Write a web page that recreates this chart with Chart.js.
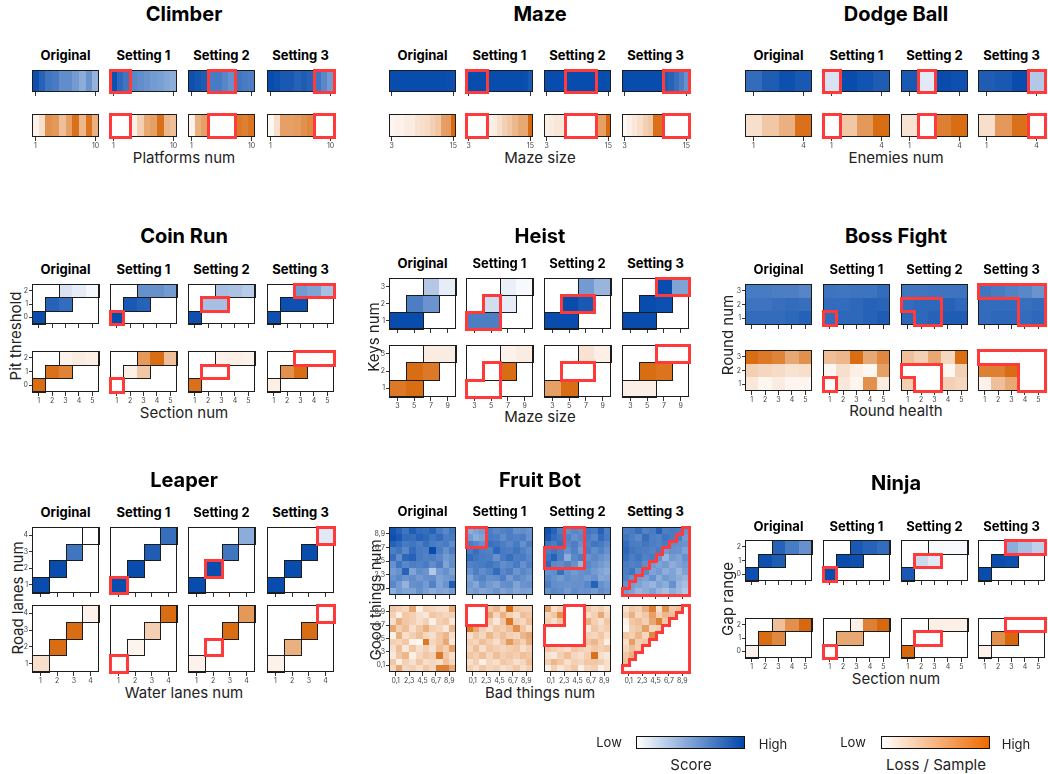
<!DOCTYPE html>
<html>
<head>
<meta charset="utf-8">
<script src="https://cdn.jsdelivr.net/npm/chart.js@4.4.1/dist/chart.umd.min.js"></script>
<style>
html, body { margin: 0; padding: 0; background: #fff; }
#page { position: relative; width: 1048px; height: 774px; overflow: hidden; font-family: Inter, "Noto Sans", sans-serif; color: #111; }
.t { position: absolute; white-space: nowrap; transform: translate(-50%, -50%); line-height: 1; }
.title { font-weight: 700; font-size: 20px; color: #000; }
.sub { font-weight: 700; font-size: 13px; color: #000; }
.axis { font-size: 15px; color: #222; }
.leg { font-size: 13px; color: #222; }
.rot { transform: translate(-50%, -50%) rotate(-90deg); }
.host { position: absolute; }
.host canvas { display: block; }
.bar { position: absolute; border: 1.5px solid #111; box-sizing: border-box; }
</style>
</head>
<body>
<div id="page"></div>
<script>
const N = null;

// ---------- Climber ----------
const climberX = [1, 2, 3, 4, 5, 6, 7, 8, 9, 10];
const climberTicks = [1, 10];
const climberScore = [
  [0.95, 0.85, 0.75, 0.72, 0.62, 0.62, 0.55, 0.45, 0.58, 0.42],
  [0.95, 0.82, 0.75, 0.65, 0.62, 0.58, 0.55, 0.52, 0.48, 0.45],
  [0.95, 0.92, 0.88, 0.72, 0.72, 0.66, 0.60, 0.75, 0.72, 0.70],
  [0.97, 0.95, 0.90, 0.90, 0.85, 0.88, 0.85, 0.75, 0.65, 0.55]
];
const climberLoss = [
  [0.08, 0.20, 0.70, 0.65, 0.40, 0.60, 0.90, 0.45, 0.88, 0.50],
  [N, N, N, 0.10, 0.30, 0.55, 0.60, 0.90, 0.45, 0.40],
  [0.08, 0.50, 0.60, N, N, N, N, 0.85, 0.80, 0.88],
  [0.05, 0.20, 0.60, 0.60, 0.62, 0.70, 0.75, N, N, N]
];

// ---------- Maze ----------
const mazeX = [3, 4, 5, 6, 7, 8, 9, 10, 11, 12, 13, 14, 15];
const mazeTicks = [3, 15];
const mazeScore = [
  [0.97, 0.97, 0.97, 0.97, 0.97, 0.97, 0.97, 0.97, 0.97, 0.97, 0.97, 0.96, 0.95],
  [0.97, 0.97, 0.97, 0.97, 0.97, 0.97, 0.97, 0.97, 0.97, 0.97, 0.97, 0.96, 0.90],
  [0.97, 0.97, 0.97, 0.97, 0.97, 0.97, 0.97, 0.97, 0.97, 0.97, 0.97, 0.97, 0.96],
  [0.97, 0.97, 0.97, 0.97, 0.97, 0.97, 0.97, 0.97, 0.88, 0.85, 0.78, 0.70, 0.60]
];
const mazeLoss = [
  [0.06, 0.08, 0.08, 0.12, 0.12, 0.18, 0.20, 0.22, 0.30, 0.35, 0.60, 0.62, 0.95],
  [N, N, N, N, 0.08, 0.12, 0.20, 0.30, 0.35, 0.45, 0.55, 0.55, 0.95],
  [0.10, 0.12, 0.15, 0.15, N, N, N, N, N, N, 0.60, 0.60, 0.95],
  [0.05, 0.10, 0.15, 0.20, 0.30, 0.35, 0.90, 0.90, N, N, N, N, N]
];

// ---------- Dodge Ball ----------
const dodgeX = [1, 2, 3, 4];
const dodgeTicks = [1, 4];
const dodgeScore = [
  [0.80, 0.88, 0.95, 0.90],
  [0.15, 0.97, 0.93, 0.88],
  [0.90, 0.12, 0.97, 0.95],
  [0.88, 0.90, 0.97, 0.30]
];
const dodgeLoss = [
  [0.20, 0.35, 0.50, 0.90],
  [N, 0.35, 0.65, 0.92],
  [0.18, N, 0.80, 0.92],
  [0.20, 0.65, 0.90, N]
];

// ---------- Coin Run ----------
const coinRunX = [1, 2, 3, 4, 5];
const coinRunY = [0, 1, 2];
const coinRunCells = [[1, 0], [2, 1], [3, 1], [3, 2], [4, 2], [5, 2]];
const coinRunScore = [
  [0.97, 0.85, 0.80, 0.15, 0.10, 0.04],
  [0.97, 0.90, 0.85, 0.60, 0.60, 0.55],
  [0.95, 0.35, 0.35, 0.35, 0.33, 0.28],
  [0.95, 0.95, 0.95, 0.55, 0.50, 0.35]
];
const coinRunLoss = [
  [0.92, 0.90, 0.78, 0.08, 0.12, 0.10],
  [N, 0.10, 0.35, 0.65, 0.92, 0.40],
  [0.90, N, N, 0.08, 0.10, 0.08],
  [0.10, 0.70, 0.92, N, N, N]
];

// ---------- Heist ----------
const heistX = [3, 5, 7, 9];
const heistY = [1, 2, 3];
const heistCells = [[3, 1], [5, 1], [5, 2], [7, 2], [7, 3], [9, 3]];
const heistScore = [
  [0.97, 0.97, 0.70, 0.58, 0.30, 0.10],
  [0.70, 0.70, 0.18, 0.10, 0.08, 0.03],
  [0.97, 0.97, 0.97, 0.90, 0.55, 0.40],
  [0.97, 0.97, 0.97, 0.95, 0.97, 0.50]
];
const heistLoss = [
  [0.85, 0.92, 0.92, 0.85, 0.12, 0.12],
  [N, N, N, 0.92, 0.08, 0.12],
  [0.60, 0.92, N, N, 0.18, 0.10],
  [0.10, 0.10, 0.92, 0.88, N, N]
];

// ---------- Boss Fight (rows: round num 3, 2, 1) ----------
const bossX = [1, 2, 3, 4, 5];
const bossY = [1, 2, 3];
const bossScore = [
  [[0.72, 0.72, 0.70, 0.70, 0.66], [0.76, 0.76, 0.78, 0.80, 0.78], [0.80, 0.80, 0.80, 0.82, 0.86]],
  [[0.76, 0.75, 0.76, 0.76, 0.80], [0.80, 0.80, 0.82, 0.85, 0.84], [0.80, 0.82, 0.82, 0.85, 0.88]],
  [[0.75, 0.75, 0.76, 0.76, 0.76], [0.80, 0.82, 0.82, 0.85, 0.82], [0.82, 0.82, 0.85, 0.88, 0.88]],
  [[0.75, 0.72, 0.68, 0.65, 0.58], [0.80, 0.80, 0.80, 0.78, 0.80], [0.80, 0.82, 0.82, 0.80, 0.82]]
];
const bossLoss = [
  [[0.92, 0.85, 0.78, 0.55, 0.70], [0.30, 0.25, 0.22, 0.18, 0.20], [0.15, 0.05, 0.12, 0.06, 0.06]],
  [[0.40, 0.45, 0.92, 0.55, 0.75], [0.05, 0.20, 0.10, 0.05, 0.60], [N, 0.15, 0.06, 0.70, 0.12]],
  [[0.40, 0.30, 0.55, 0.25, 0.92], [N, N, N, 0.05, 0.30], [0.30, N, N, 0.30, 0.25]],
  [[N, N, N, N, N], [0.80, 0.80, 0.92, N, N], [0.08, 0.40, 0.55, N, N]]
];

// ---------- Leaper ----------
const leaperX = [1, 2, 3, 4];
const leaperY = [1, 2, 3, 4];
const leaperCells = [[1, 1], [2, 2], [3, 3], [4, 4]];
const leaperScore = [
  [0.97, 0.97, 0.75, 0.00],
  [0.97, 0.97, 0.88, 0.78],
  [0.97, 0.97, 0.75, 0.45],
  [0.97, 0.97, 0.97, 0.12]
];
const leaperLoss = [
  [0.20, 0.92, 0.92, 0.08],
  [N, 0.07, 0.30, 0.92],
  [0.08, N, 0.92, 0.65],
  [0.08, 0.50, 0.92, N]
];

// ---------- Fruit Bot (rows: good things 9 down to 0, columns: bad things 0..9) ----------
const fruitBins = [0, 1, 2, 3, 4, 5, 6, 7, 8, 9];
const fruitTickLabels = ['0,1', '2,3', '4,5', '6,7', '8,9'];
const fruitScore = [
  [
    [0.92, 0.85, 0.75, 0.88, 0.80, 0.78, 0.85, 0.72, 0.65, 0.75],
    [0.95, 0.90, 0.80, 0.78, 0.85, 0.82, 0.75, 0.80, 0.70, 0.72],
    [0.85, 0.80, 0.72, 0.75, 0.70, 0.78, 0.72, 0.68, 0.72, 0.62],
    [0.70, 0.75, 0.65, 0.80, 0.72, 0.70, 0.97, 0.70, 0.60, 0.70],
    [0.78, 0.62, 0.82, 0.85, 0.72, 0.68, 0.70, 0.65, 0.55, 0.60],
    [0.60, 0.75, 0.65, 0.70, 0.68, 0.72, 0.62, 0.70, 0.50, 0.62],
    [0.55, 0.60, 0.85, 0.50, 0.62, 0.58, 0.30, 0.55, 0.60, 0.50],
    [0.60, 0.65, 0.58, 0.62, 0.55, 0.60, 0.62, 0.50, 0.55, 0.58],
    [0.65, 0.55, 0.42, 0.60, 0.62, 0.55, 0.68, 0.50, 0.58, 0.88],
    [0.45, 0.55, 0.50, 0.50, 0.60, 0.52, 0.45, 0.50, 0.48, 0.55]
  ],
  [
    [0.45, 0.50, 0.55, 0.70, 0.65, 0.68, 0.70, 0.60, 0.62, 0.58],
    [0.55, 0.45, 0.50, 0.72, 0.70, 0.62, 0.70, 0.68, 0.70, 0.60],
    [0.70, 0.65, 0.60, 0.78, 0.75, 0.70, 0.65, 0.72, 0.60, 0.70],
    [0.72, 0.78, 0.70, 0.68, 0.82, 0.72, 0.70, 0.75, 0.68, 0.62],
    [0.80, 0.75, 0.72, 0.70, 0.60, 0.72, 0.78, 0.70, 0.72, 0.65],
    [0.68, 0.70, 0.72, 0.75, 0.70, 0.62, 0.65, 0.72, 0.60, 0.68],
    [0.60, 0.70, 0.62, 0.68, 0.80, 0.65, 0.70, 0.58, 0.65, 0.60],
    [0.50, 0.62, 0.68, 0.60, 0.62, 0.70, 0.55, 0.65, 0.60, 0.55],
    [0.55, 0.48, 0.62, 0.55, 0.50, 0.60, 0.62, 0.50, 0.58, 0.60],
    [0.50, 0.55, 0.48, 0.52, 0.58, 0.50, 0.55, 0.48, 0.52, 0.50]
  ],
  [
    [0.95, 0.85, 0.70, 0.60, 0.65, 0.62, 0.75, 0.72, 0.85, 0.70],
    [0.90, 0.80, 0.75, 0.68, 0.60, 0.65, 0.72, 0.65, 0.80, 0.72],
    [0.75, 0.70, 0.78, 0.65, 0.70, 0.60, 0.68, 0.75, 0.72, 0.65],
    [0.70, 0.75, 0.70, 0.60, 0.68, 0.55, 0.70, 0.62, 0.68, 0.60],
    [0.75, 0.85, 0.70, 0.45, 0.65, 0.70, 0.60, 0.65, 0.60, 0.55],
    [0.82, 0.65, 0.62, 0.68, 0.60, 0.40, 0.65, 0.60, 0.55, 0.50],
    [0.60, 0.62, 0.78, 0.60, 0.55, 0.60, 0.62, 0.55, 0.50, 0.45],
    [0.65, 0.60, 0.55, 0.62, 0.58, 0.60, 0.55, 0.60, 0.48, 0.50],
    [0.70, 0.62, 0.60, 0.58, 0.60, 0.60, 0.65, 0.85, 0.60, 0.55],
    [0.60, 0.65, 0.62, 0.55, 0.62, 0.58, 0.60, 0.55, 0.62, 0.58]
  ],
  [
    [0.70, 0.72, 0.78, 0.68, 0.72, 0.85, 0.70, 0.72, 0.70, 0.60],
    [0.75, 0.70, 0.65, 0.78, 0.70, 0.68, 0.75, 0.72, 0.70, 0.55],
    [0.80, 0.72, 0.70, 0.75, 0.70, 0.68, 0.72, 0.62, 0.60, 0.58],
    [0.82, 0.75, 0.72, 0.70, 0.68, 0.72, 0.55, 0.60, 0.58, 0.50],
    [0.78, 0.70, 0.75, 0.68, 0.72, 0.60, 0.40, 0.55, 0.50, 0.60],
    [0.72, 0.68, 0.70, 0.62, 0.55, 0.50, 0.55, 0.45, 0.50, 0.55],
    [0.70, 0.75, 0.60, 0.65, 0.50, 0.55, 0.45, 0.50, 0.40, 0.50],
    [0.68, 0.60, 0.55, 0.50, 0.60, 0.45, 0.55, 0.50, 0.45, 0.40],
    [0.60, 0.55, 0.50, 0.45, 0.40, 0.50, 0.45, 0.60, 0.40, 0.35],
    [0.55, 0.50, 0.40, 0.45, 0.50, 0.40, 0.35, 0.45, 0.38, 0.30]
  ]
];
const fruitLoss = [
  [
    [0.35, 0.30, 0.25, 0.55, 0.10, 0.30, 0.25, 0.20, 0.20, 0.55],
    [0.30, 0.10, 0.35, 0.30, 0.20, 0.15, 0.35, 0.30, 0.25, 0.30],
    [0.20, 0.50, 0.35, 0.30, 0.20, 0.30, 0.10, 0.30, 0.35, 0.15],
    [0.55, 0.30, 0.40, 0.20, 0.35, 0.50, 0.30, 0.25, 0.15, 0.45],
    [0.10, 0.50, 0.20, 0.30, 0.40, 0.25, 0.20, 0.35, 0.45, 0.20],
    [0.30, 0.25, 0.35, 0.08, 0.05, 0.85, 0.25, 0.35, 0.55, 0.15],
    [0.20, 0.40, 0.15, 0.35, 0.20, 0.30, 0.20, 0.40, 0.30, 0.60],
    [0.15, 0.35, 0.45, 0.10, 0.25, 0.35, 0.30, 0.85, 0.35, 0.20],
    [0.35, 0.10, 0.30, 0.20, 0.35, 0.20, 0.25, 0.20, 0.40, 0.25],
    [0.25, 0.55, 0.25, 0.30, 0.20, 0.35, 0.25, 0.80, 0.80, 0.55]
  ],
  [
    [N, N, N, 0.35, 0.45, 0.25, 0.92, 0.35, 0.30, 0.30],
    [N, N, N, 0.55, 0.25, 0.50, 0.30, 0.20, 0.40, 0.35],
    [N, N, N, 0.30, 0.15, 0.35, 0.85, 0.30, 0.25, 0.40],
    [0.85, 0.55, 0.30, 0.20, 0.35, 0.30, 0.40, 0.70, 0.35, 0.20],
    [0.20, 0.35, 0.25, 0.45, 0.30, 0.40, 0.30, 0.25, 0.45, 0.55],
    [0.30, 0.25, 0.40, 0.30, 0.20, 0.35, 0.65, 0.40, 0.30, 0.50],
    [0.25, 0.40, 0.20, 0.35, 0.30, 0.25, 0.30, 0.35, 0.20, 0.30],
    [0.35, 0.30, 0.40, 0.25, 0.40, 0.30, 0.35, 0.30, 0.40, 0.35],
    [0.20, 0.30, 0.10, 0.25, 0.20, 0.35, 0.30, 0.20, 0.25, 0.40],
    [0.30, 0.20, 0.35, 0.25, 0.30, 0.20, 0.25, 0.35, 0.20, 0.30]
  ],
  [
    [0.60, 0.20, 0.30, N, N, N, 0.35, 0.25, 0.30, 0.20],
    [0.25, 0.35, 0.70, N, N, N, 0.20, 0.30, 0.55, 0.25],
    [0.30, 0.20, 0.35, N, N, N, 0.50, 0.30, 0.20, 0.35],
    [N, N, N, N, N, N, 0.15, 0.35, 0.25, 0.30],
    [N, N, N, N, N, N, 0.30, 0.25, 0.35, 0.20],
    [N, N, N, N, N, N, 0.35, 0.45, 0.30, 0.10],
    [0.35, 0.30, 0.25, 0.20, 0.35, 0.30, 0.25, 0.35, 0.30, 0.35],
    [0.20, 0.15, 0.30, 0.40, 0.25, 0.20, 0.30, 0.90, 0.20, 0.15],
    [0.30, 0.45, 0.35, 0.20, 0.30, 0.25, 0.35, 0.35, 0.30, 0.20],
    [0.10, 0.30, 0.15, 0.25, 0.35, 0.10, 0.25, 0.30, 0.10, 0.20]
  ],
  [
    [0.20, 0.35, 0.30, 0.50, 0.80, 0.20, 0.70, 0.35, 0.40, N],
    [0.30, 0.50, 0.25, 0.35, 0.60, 0.30, 0.45, 0.40, N, N],
    [0.10, 0.35, 0.40, 0.30, 0.55, 0.80, 0.35, N, N, N],
    [0.05, 0.30, 0.35, 0.60, 0.25, 0.30, N, N, N, N],
    [0.35, 0.30, 0.45, 0.25, 0.75, N, N, N, N, N],
    [0.20, 0.60, 0.30, 0.35, N, N, N, N, N, N],
    [0.25, 0.40, 0.30, N, N, N, N, N, N, N],
    [0.35, 0.50, N, N, N, N, N, N, N, N],
    [0.40, N, N, N, N, N, N, N, N, N],
    [N, N, N, N, N, N, N, N, N, N]
  ]
];

// ---------- Ninja ----------
const ninjaX = [1, 2, 3, 4, 5];
const ninjaY = [0, 1, 2];
const ninjaCells = [[1, 0], [2, 1], [3, 1], [3, 2], [4, 2], [5, 2]];
const ninjaScore = [
  [0.95, 0.95, 0.88, 0.85, 0.72, 0.60],
  [0.97, 0.97, 0.95, 0.90, 0.85, 0.80],
  [0.90, 0.20, 0.12, 0.03, 0.03, 0.03],
  [0.97, 0.97, 0.95, 0.45, 0.35, 0.25]
];
const ninjaLoss = [
  [0.08, 0.92, 0.75, 0.40, 0.70, 0.95],
  [N, 0.55, 0.55, 0.10, 0.80, 0.95],
  [0.95, N, N, 0.10, 0.10, 0.10],
  [0.08, 0.70, 0.95, N, N, N]
];

const settingNames = ['Original', 'Setting 1', 'Setting 2', 'Setting 3'];

// ---------- drawing ----------
Chart.defaults.font.family = 'Inter, "Noto Sans", sans-serif';

const BLUE = [0, 71, 171];
const ORANGE = [214, 96, 0];
function shade(rgb, t) {
  t = Math.max(0, Math.min(1, t));
  const c = rgb.map(k => Math.round(255 + (k - 255) * t));
  return 'rgb(' + c[0] + ',' + c[1] + ',' + c[2] + ')';
}

const page = document.getElementById('page');
function text(str, x, y, cls) {
  const d = document.createElement('div');
  d.className = 't ' + cls;
  d.textContent = str;
  d.style.left = x + 'px';
  d.style.top = y + 'px';
  page.appendChild(d);
}

const COLS = { left: [32, 110, 188, 267], mid: [389, 466, 544, 622], right: [745, 823, 901, 978] };
const COL_CENTER = { left: 184, mid: 540, right: 896 };
const PLOT_W = 67;

function stripPos(xs) { return xs.map((v, i) => ({ x: i, y: 0 })); }
function cellPos(xs, ys, cells) { return cells.map(([a, b]) => ({ x: xs.indexOf(a), y: ys.indexOf(b) })); }
function gridPos(nx, ny) {
  const out = [];
  for (let r = 0; r < ny; r++) for (let c = 0; c < nx; c++) out.push({ x: c, y: ny - 1 - r });
  return out;
}
const valTicks = (xs, shown) => shown.map(v => ({ pos: xs.indexOf(v), label: String(v) }));
const pairTicks = labels => labels.map((l, i) => ({ pos: 2 * i + 0.5, label: l }));

const panels = [
  { title: 'Climber', col: 'left', titleY: 14, subY: 55, rows: [[70, 22], [114, 23]], xTitle: 'Platforms num', xTitleY: 157,
    nx: climberX.length, ny: 1, pos: stripPos(climberX), grid: false, outline: false,
    xTicks: valTicks(climberX, climberTicks), yTicks: null, score: climberScore, loss: climberLoss },
  { title: 'Maze', col: 'mid', titleY: 14, subY: 55, rows: [[70, 22], [114, 23]], xTitle: 'Maze size', xTitleY: 157,
    nx: mazeX.length, ny: 1, pos: stripPos(mazeX), grid: false, outline: false,
    xTicks: valTicks(mazeX, mazeTicks), yTicks: null, score: mazeScore, loss: mazeLoss },
  { title: 'Dodge Ball', col: 'right', titleY: 14, subY: 55, rows: [[70, 22], [114, 23]], xTitle: 'Enemies num', xTitleY: 157,
    nx: dodgeX.length, ny: 1, pos: stripPos(dodgeX), grid: false, outline: false,
    xTicks: valTicks(dodgeX, dodgeTicks), yTicks: null, score: dodgeScore, loss: dodgeLoss },
  { title: 'Coin Run', col: 'left', titleY: 236, subY: 269, rows: [[284, 40], [351, 41]], xTitle: 'Section num', xTitleY: 412,
    yTitle: 'Pit threshold', yTitleX: 15, yTitleY: 336,
    nx: coinRunX.length, ny: coinRunY.length, pos: cellPos(coinRunX, coinRunY, coinRunCells), grid: false, outline: true,
    xTicks: valTicks(coinRunX, coinRunX), yTicks: valTicks(coinRunY, coinRunY), score: coinRunScore, loss: coinRunLoss },
  { title: 'Heist', col: 'mid', titleY: 236, subY: 263, rows: [[278, 51], [345, 52]], xTitle: 'Maze size', xTitleY: 416,
    yTitle: 'Keys num', yTitleX: 373, yTitleY: 337,
    nx: heistX.length, ny: heistY.length, pos: cellPos(heistX, heistY, heistCells), grid: false, outline: true,
    xTicks: valTicks(heistX, heistX), yTicks: valTicks(heistY, heistY), score: heistScore, loss: heistLoss },
  { title: 'Boss Fight', col: 'right', titleY: 236, subY: 269, rows: [[284, 41], [350, 41]], xTitle: 'Round health', xTitleY: 410,
    yTitle: 'Round num', yTitleX: 727, yTitleY: 335,
    nx: bossX.length, ny: bossY.length, pos: gridPos(bossX.length, bossY.length), grid: true, outline: false,
    xTicks: valTicks(bossX, bossX), yTicks: valTicks(bossY, bossY), score: bossScore, loss: bossLoss },
  { title: 'Leaper', col: 'left', titleY: 480, subY: 512, rows: [[527, 66], [605, 67]], xTitle: 'Water lanes num', xTitleY: 692,
    yTitle: 'Road lanes num', yTitleX: 17, yTitleY: 598,
    nx: leaperX.length, ny: leaperY.length, pos: cellPos(leaperX, leaperY, leaperCells), grid: false, outline: true,
    xTicks: valTicks(leaperX, leaperX), yTicks: valTicks(leaperY, leaperY), score: leaperScore, loss: leaperLoss },
  { title: 'Fruit Bot', col: 'mid', titleY: 480, subY: 511, rows: [[527, 68], [605, 67]], xTitle: 'Bad things num', xTitleY: 692,
    yTitle: 'Good things num', yTitleX: 375, yTitleY: 600,
    nx: fruitBins.length, ny: fruitBins.length, pos: gridPos(fruitBins.length, fruitBins.length), grid: true, outline: false,
    xTicks: pairTicks(fruitTickLabels), yTicks: pairTicks(fruitTickLabels), score: fruitScore, loss: fruitLoss },
  { title: 'Ninja', col: 'right', titleY: 483, subY: 526, rows: [[540, 41], [618, 40]], xTitle: 'Section num', xTitleY: 678,
    yTitle: 'Gap range', yTitleX: 727, yTitleY: 599,
    nx: ninjaX.length, ny: ninjaY.length, pos: cellPos(ninjaX, ninjaY, ninjaCells), grid: false, outline: true,
    xTicks: valTicks(ninjaX, ninjaX), yTicks: valTicks(ninjaY, ninjaY), score: ninjaScore, loss: ninjaLoss }
];

function drawHeat(chart, rgb, outline) {
  const { ctx, chartArea: a } = chart;
  const sx = chart.scales.x, sy = chart.scales.y;
  const X = v => sx.getPixelForValue(v), Y = v => sy.getPixelForValue(v);
  const cells = chart.data.datasets[0].data;
  const key = (i, j) => i + ':' + j;
  const byKey = new Map(cells.map(c => [key(c.x, c.y), c]));
  ctx.save();
  for (const c of cells) {
    if (c.v === null || c.v === undefined) continue;
    const l = Math.round(X(c.x - 0.5)), r = Math.round(X(c.x + 0.5));
    const t = Math.round(Y(c.y + 0.5)), b = Math.round(Y(c.y - 0.5));
    ctx.fillStyle = shade(rgb, c.v);
    ctx.fillRect(l, t, r - l, b - t);
  }
  const dirs = [[1, 0], [-1, 0], [0, 1], [0, -1]];
  const edge = (c, dx, dy) => {
    if (dx) { const xv = c.x + dx * 0.5; return [xv, c.y - 0.5, xv, c.y + 0.5]; }
    const yv = c.y + dy * 0.5; return [c.x - 0.5, yv, c.x + 0.5, yv];
  };
  const stroke = (segs, color, w) => {
    ctx.strokeStyle = color; ctx.lineWidth = w; ctx.lineCap = 'square';
    const off = w % 2 ? 0.5 : 0;
    ctx.beginPath();
    for (const [x0, y0, x1, y1] of segs) {
      ctx.moveTo(Math.round(X(x0)) + off, Math.round(Y(y0)) + off);
      ctx.lineTo(Math.round(X(x1)) + off, Math.round(Y(y1)) + off);
    }
    ctx.stroke();
  };
  if (outline) {
    const segs = [];
    for (const c of cells) for (const [dx, dy] of dirs) {
      const n = byKey.get(key(c.x + dx, c.y + dy));
      if (!n || n.y !== c.y) segs.push(edge(c, dx, dy));
    }
    stroke(segs, '#1c1c1c', 1);
  }
  ctx.lineWidth = 1; ctx.strokeStyle = '#1c1c1c';
  const L = Math.round(a.left), T = Math.round(a.top), R = Math.round(a.right), B = Math.round(a.bottom);
  ctx.strokeRect(L + 0.5, T + 0.5, R - L - 1, B - T - 1);
  const held = cells.filter(c => c.held);
  const heldKeys = new Set(held.map(c => key(c.x, c.y)));
  const redSegs = [];
  for (const c of held) for (const [dx, dy] of dirs) {
    if (!heldKeys.has(key(c.x + dx, c.y + dy))) redSegs.push(edge(c, dx, dy));
  }
  if (redSegs.length) stroke(redSegs, '#ff3a3a', 3);
  ctx.restore();
}

function axisOptions(ticksList, size, showLabels, showTicks, isX, span) {
  const labelFor = v => {
    const t = ticksList.find(k => Math.abs(k.pos - v) < 1e-6);
    return t ? t.label : '';
  };
  return {
    type: 'linear',
    display: true,
    min: -0.5,
    max: span - 0.5,
    reverse: false,
    afterBuildTicks: s => { s.ticks = showTicks ? ticksList.map(k => ({ value: k.pos })) : []; },
    afterFit: s => { if (isX) s.height = size; else s.width = size; },
    ticks: { display: showLabels, autoSkip: false, maxRotation: 0, minRotation: 0, padding: 1,
      font: { size: 7 }, color: '#444', callback: v => labelFor(v) },
    grid: { display: showTicks, drawOnChartArea: false, drawTicks: true, tickLength: isX ? 4 : 3, color: '#333', lineWidth: 1 },
    border: { display: false }
  };
}

function makeHeat(p, s, r) {
  const [plotY, plotH] = p.rows[r];
  const plotX = COLS[p.col][s];
  const flat = m => p.grid ? m.flat() : m;
  const vals = flat(r === 0 ? p.score[s] : p.loss[s]);
  const lossVals = flat(p.loss[s]);
  const data = p.pos.map((q, i) => ({ x: q.x, y: q.y, v: vals[i], held: lossVals[i] === null }));
  const showY = !!p.yTicks && s === 0;
  const showXLabels = r === 1;
  const rgb = r === 0 ? BLUE : ORANGE;
  const LEFT = 18, TOP = 8, RIGHT = 8, BOTTOM = 14;

  const host = document.createElement('div');
  host.className = 'host';
  page.appendChild(host);

  let W = PLOT_W + LEFT + RIGHT, H = plotH + TOP + BOTTOM;
  let chart = null;
  for (let pass = 0; pass < 3; pass++) {
    if (chart) chart.destroy();
    host.innerHTML = '';
    const cv = document.createElement('canvas');
    cv.width = W; cv.height = H;
    cv.style.width = W + 'px'; cv.style.height = H + 'px';
    host.appendChild(cv);
    chart = new Chart(cv, {
      type: 'scatter',
      data: { datasets: [{ data: data, pointRadius: 0, pointHoverRadius: 0 }] },
      options: {
        responsive: false,
        maintainAspectRatio: false,
        animation: false,
        events: [],
        devicePixelRatio: 1,
        layout: { padding: { left: showY ? 0 : LEFT, top: TOP, right: RIGHT, bottom: 0 } },
        plugins: { legend: { display: false }, tooltip: { enabled: false } },
        scales: {
          x: axisOptions(p.xTicks, BOTTOM, showXLabels, true, true, p.nx),
          y: Object.assign(axisOptions(p.yTicks || [], LEFT, showY, showY, false, p.ny), { display: showY })
        }
      },
      plugins: [{ id: 'heatCells', afterDatasetsDraw: c => drawHeat(c, rgb, p.outline) }]
    });
    const a = chart.chartArea;
    const dw = PLOT_W - (a.right - a.left), dh = plotH - (a.bottom - a.top);
    if (Math.abs(dw) < 0.5 && Math.abs(dh) < 0.5) break;
    W = Math.round(W + dw); H = Math.round(H + dh);
  }
  host.style.left = (plotX - chart.chartArea.left) + 'px';
  host.style.top = (plotY - chart.chartArea.top) + 'px';
}

for (const p of panels) {
  text(p.title, COL_CENTER[p.col], p.titleY, 'title');
  settingNames.forEach((n, s) => text(n, COLS[p.col][s] + PLOT_W / 2, p.subY, 'sub'));
  text(p.xTitle, COL_CENTER[p.col], p.xTitleY, 'axis');
  if (p.yTitle) text(p.yTitle, p.yTitleX, p.yTitleY, 'axis rot');
  for (let s = 0; s < 4; s++) for (let r = 0; r < 2; r++) makeHeat(p, s, r);
}

// ---------- colour legends ----------
function legendBar(x, y, w, h, color) {
  const d = document.createElement('div');
  d.className = 'bar';
  Object.assign(d.style, { left: x + 'px', top: y + 'px', width: w + 'px', height: h + 'px',
    background: 'linear-gradient(to right, #ffffff, ' + color + ')' });
  page.appendChild(d);
}
legendBar(636, 736, 109, 13, '#0047ab');
text('Low', 609, 742, 'leg');
text('High', 773, 744, 'leg');
text('Score', 691, 764, 'axis');
legendBar(881, 736, 109, 13, '#ee6a00');
text('Low', 853, 742, 'leg');
text('High', 1016, 744, 'leg');
text('Loss / Sample', 936, 764, 'axis');
</script>
</body>
</html>
